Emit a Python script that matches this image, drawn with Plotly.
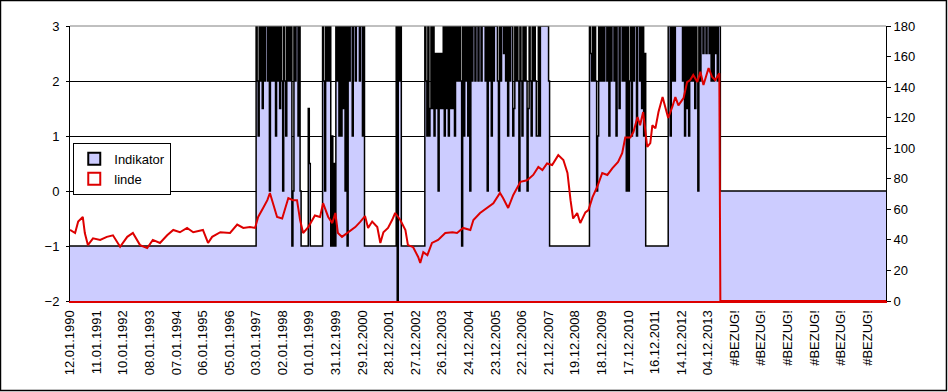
import plotly.graph_objects as go

# ---------------- data ----------------
# Category axis = weekly dates; one label every 52 categories
TICK_LABELS = ["12.01.1990", "11.01.1991", "10.01.1992", "08.01.1993", "07.01.1994",
               "06.01.1995", "05.01.1996", "03.01.1997", "02.01.1998", "01.01.1999",
               "31.12.1999", "29.12.2000", "28.12.2001", "27.12.2002", "26.12.2003",
               "24.12.2004", "23.12.2005", "22.12.2006", "21.12.2007", "19.12.2008",
               "18.12.2009", "17.12.2010", "16.12.2011", "14.12.2012", "04.12.2013",
               "#BEZUG!", "#BEZUG!", "#BEZUG!", "#BEZUG!", "#BEZUG!", "#BEZUG!"]
WEEKS_PER_LABEL = 52
LAST_CATEGORY = 1596

# Indikator, one code per 2-week sample
LEVEL = {"N": -2, "a": -1, "c": 0, "d": 0.5, "e": 1, "f": 1.5, "g": 2, "h": 2.5, "i": 3}
INDIKATOR_CODES = [
    "a" * 182,
    "igeigifigi", "igicigigie", "igifigcige", "igigiacigi", "ieic",
    "a" * 7, "fd", "a" * 12,
    "igcigigiae", "adaigieiei", "ficiaigiie", "iigiiigiiei",
    "a" * 31,
    "iNigi",
    "a" * 23,
    "igeiefifie", "hfhchfhfie", "ifieififie", "igigigaiei", "gieicigiig",
    "iigiigiii", "gicigieigi", "iigcigiihi", "gieigiiefi", "gigcigeigi",
    "gcfigeigig", "eeieiiii", "iiiig",
    "a" * 39,
    "ihgigigcei", "gigigiigie", "igiigieiif", "iigigicicg", "ieigiieiig", "ifieh",
    "a" * 22,
    "iieigigii", "iiiiigieif", "ieigigifig", "cigiihiihi", "ihigigihig", "ii",
    "c" * 163,
]
WEEKS_PER_SAMPLE = 2

# linde (right axis): week index and value
LINDE_WEEK = [0, 10, 16, 25, 29, 35, 45, 59, 72, 84, 98, 112, 123, 137, 151, 162, 176, 190,
              202, 215, 229, 241, 260, 270, 278, 294, 313, 327, 339, 352, 362, 368, 378, 386,
              391, 397, 405, 415, 421, 427, 436, 444, 450, 456, 466, 479, 489, 495, 505, 513,
              519, 524, 532, 544, 558, 568, 577, 583, 591, 601, 607, 613, 622, 630, 636, 646,
              656, 661, 671, 681, 685, 691, 699, 708, 720, 734, 748, 757, 769, 783, 789, 802,
              816, 828, 841, 847, 857, 867, 881, 894, 906, 916, 924, 933, 943, 955, 965, 973,
              979, 984, 992, 998, 1008, 1014, 1022, 1031, 1041, 1051, 1061, 1072, 1080, 1086,
              1096, 1102, 1110, 1115, 1121, 1129, 1135, 1139, 1145, 1151, 1159, 1164, 1170,
              1178, 1184, 1190, 1200, 1207, 1213, 1219, 1227, 1233, 1239, 1249, 1256, 1262,
              1270, 1272, 1596]
LINDE_VAL = [46.5, 44.5, 52, 55, 44.5, 36.6, 41, 40, 42, 43, 35.5, 42, 44.5, 36.6, 34.7, 40,
             38, 43, 46.5, 45, 47.8, 45, 46.5, 38, 42, 45, 44.5, 50, 47.8, 48.4, 47.8, 55, 61,
             66, 70.7, 64, 55, 54, 61.5, 67.4, 66, 66, 53, 44.5, 48.4, 56, 55, 64, 55, 51,
             57.6, 44.5, 42, 45, 48.4, 52, 55.6, 47.8, 52, 48.4, 38, 45, 47.8, 53, 57.6, 53,
             46.5, 36.6, 35.3, 28.8, 24.9, 32, 30, 38, 40, 44.5, 45, 44.5, 47.8, 46.5, 53,
             57.6, 60.9, 64, 70.7, 67.4, 60.9, 69.4, 78, 79, 82.5, 87.7, 85.7, 90, 89, 95.5,
             92.3, 83.8, 66, 54, 57.6, 51, 58, 59.5, 68, 74.6, 83.8, 82.5, 87, 91, 96.8, 107,
             107, 110.6, 120.4, 115, 123.7, 100.8, 103.4, 115, 113, 123.7, 133.5, 126.3,
             119.8, 127, 133.5, 128, 132.8, 143.3, 144.6, 148, 143.3, 150, 141.4, 152.5,
             146.6, 144.6, 149, 0, 0]

# ---------------- build ----------------
codes = "".join(INDIKATOR_CODES)
ind_y = [LEVEL[c] for c in codes]
ind_x = [i * WEEKS_PER_SAMPLE for i in range(len(ind_y))]
base_y = [-2] * len(ind_y)

FILL = "#CCCCFF"
RED = "#DD0000"
FONT = "Liberation Sans, Arial, sans-serif"

fig = go.Figure()
fig.add_trace(go.Scatter(x=ind_x, y=base_y, mode="lines", line=dict(width=0, color=FILL),
                         showlegend=False, hoverinfo="skip"))
fig.add_trace(go.Scatter(x=ind_x, y=ind_y, mode="lines", fill="tonexty", fillcolor=FILL,
                         line=dict(color="black", width=1.5, shape="hv"),
                         name="Indikator", showlegend=False))
fig.add_trace(go.Scatter(x=LINDE_WEEK, y=LINDE_VAL, mode="lines", yaxis="y2",
                         line=dict(color=RED, width=2), name="linde", showlegend=False))
# legend entries
fig.add_trace(go.Scatter(x=[None], y=[None], mode="markers", name="Indikator",
                         marker=dict(symbol="square", size=9, color=FILL,
                                     line=dict(color="black", width=1))))
fig.add_trace(go.Scatter(x=[None], y=[None], mode="markers", name="linde",
                         marker=dict(symbol="square-open", size=9, color=RED,
                                     line=dict(color=RED, width=2.5))))

tickvals = [k * WEEKS_PER_LABEL for k in range(len(TICK_LABELS))]

fig.update_layout(
    width=948, height=392,
    margin=dict(l=70, r=62, t=26, b=91),
    paper_bgcolor="white", plot_bgcolor="white",
    font=dict(family=FONT, size=13, color="black"),
    xaxis=dict(range=[0, LAST_CATEGORY], tickmode="array", tickvals=tickvals,
               ticktext=TICK_LABELS, tickangle=-90, showgrid=False, zeroline=False,
               showline=True, linecolor=RED, linewidth=2, ticks="",
               ticklabelstandoff=2, tickfont=dict(size=13)),
    yaxis=dict(range=[-2, 3], tick0=-2, dtick=1, showgrid=True, gridcolor="black",
               gridwidth=1, zeroline=False, showline=True, linecolor="black", linewidth=1,
               ticks="outside", ticklen=3, tickcolor="black", ticklabelstandoff=4),
    yaxis2=dict(range=[0, 180], dtick=20, overlaying="y", side="right", showgrid=False,
                zeroline=False, showline=True, linecolor="black", linewidth=1,
                ticks="outside", ticklen=4, tickcolor="black"),
    legend=dict(x=0.004, y=0.575, xanchor="left", yanchor="top", bgcolor="white",
                bordercolor="black", borderwidth=1, font=dict(size=13),
                itemsizing="constant", itemwidth=30, tracegroupgap=0,
                traceorder="normal"),
    shapes=[
        dict(type="line", xref="paper", yref="paper", x0=0, x1=1, y0=1, y1=1,
             line=dict(color="#808080", width=1), layer="above"),
        dict(type="rect", xref="paper", yref="paper", x0=-0.0852, x1=1.0741,
             y0=-0.3255, y1=1.0927, line=dict(color="black", width=1.5),
             fillcolor="rgba(0,0,0,0)", layer="above"),
    ],
)

fig.write_html("out.html", config={"displayModeBar": False},
               post_script="document.body.style.margin='0';document.body.style.overflow='hidden';")
